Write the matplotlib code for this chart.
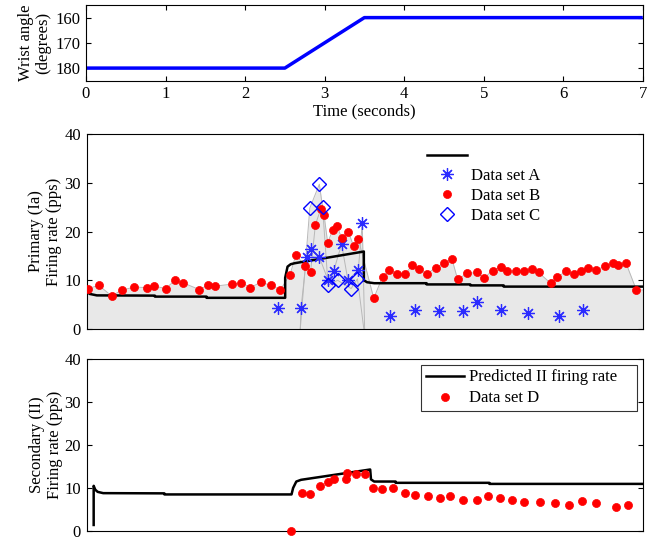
import matplotlib
matplotlib.use("Agg")
import matplotlib.pyplot as plt

plt.rcParams['font.family'] = ['Liberation Serif', 'DejaVu Serif']
plt.rcParams['font.size'] = 12
plt.rcParams['axes.linewidth'] = 0.8

# ---- wrist angle protocol ----
angle_t = [0.0, 2.5, 3.5, 7.0]
angle_deg = [180, 180, 160, 160]

# ---- primary (Ia) data ----
set_a_t = [2.41, 2.70, 2.77, 2.82, 2.93, 3.04, 3.11, 3.21, 3.29, 3.42, 3.47,
           3.82, 4.13, 4.44, 4.74, 4.92, 5.21, 5.55, 5.94, 6.25]
set_a_v = [4.4, 4.4, 14.8, 16.4, 14.8, 10.0, 11.9, 17.4, 10.0, 12.1, 21.7,
           2.7, 3.9, 3.6, 3.6, 5.6, 3.9, 3.2, 2.7, 3.9]

set_b_t = [0.02, 0.155, 0.315, 0.45, 0.60, 0.755, 0.855, 1.00, 1.11, 1.21,
           1.42, 1.53, 1.615, 1.83, 1.95, 2.06, 2.19, 2.32, 2.44, 2.56,
           2.635, 2.745, 2.82, 2.88, 2.95, 2.99, 3.035, 3.10, 3.15, 3.21,
           3.295, 3.36, 3.42, 3.615, 3.725, 3.805, 3.91, 4.01, 4.10, 4.18,
           4.28, 4.40, 4.50, 4.60, 4.67, 4.79, 4.92, 5.00, 5.11, 5.21,
           5.29, 5.40, 5.50, 5.61, 5.69, 5.84, 5.92, 6.04, 6.13, 6.22,
           6.31, 6.41, 6.53, 6.62, 6.69, 6.79, 6.92]
set_b_v = [8.3, 8.95, 6.8, 8.0, 8.6, 8.5, 8.8, 8.3, 10.0, 9.5,
           8.1, 9.0, 8.8, 9.2, 9.5, 8.5, 9.55, 9.0, 8.05, 11.1,
           15.2, 13.0, 11.7, 21.4, 24.7, 23.3, 17.7, 20.4, 21.2, 18.7,
           20.0, 17.0, 18.5, 6.3, 10.7, 12.1, 11.3, 11.3, 13.1, 12.4,
           11.3, 12.6, 13.5, 14.3, 10.2, 11.4, 11.6, 10.4, 12.0, 12.8,
           11.9, 11.9, 11.8, 12.4, 11.6, 9.4, 10.7, 11.8, 11.3, 12.0,
           12.6, 12.1, 12.9, 13.5, 13.1, 13.5, 8.0]

set_c_t = [2.81, 2.93, 2.97, 3.04, 3.16, 3.33, 3.41]
set_c_v = [24.8, 29.7, 25.1, 9.0, 10.0, 8.3, 10.3]

# predicted Ia firing rate (polyline vertices)
ia_t = [0.0, 0.0, 0.04, 0.13, 0.86, 0.86, 1.51, 1.51, 2.50, 2.50, 2.53, 2.57,
        2.62, 3.49, 3.49, 3.53, 3.62, 4.28, 4.28, 4.83, 4.83, 5.25, 5.25, 7.0]
ia_v = [13.3, 7.7, 7.2, 6.9, 6.85, 6.65, 6.65, 6.4, 6.4, 10.5, 12.8, 13.3,
        13.5, 15.9, 10.0, 9.6, 9.4, 9.4, 9.15, 9.15, 8.95, 8.95, 8.7, 8.7]

# ---- secondary (II) data ----
set_d_t = [2.57, 2.71, 2.81, 2.94, 3.04, 3.12, 3.26, 3.28, 3.39, 3.51,
           3.61, 3.72, 3.86, 4.01, 4.13, 4.30, 4.45, 4.58, 4.74, 4.91,
           5.05, 5.20, 5.35, 5.50, 5.71, 5.90, 6.07, 6.24, 6.41, 6.66, 6.82]
set_d_v = [0.0, 8.9, 8.7, 10.4, 11.5, 12.2, 12.2, 13.6, 13.2, 13.2,
           9.9, 9.8, 9.9, 8.9, 8.45, 8.1, 7.7, 8.1, 7.25, 7.2,
           8.2, 7.75, 7.2, 6.8, 6.8, 6.4, 6.05, 7.05, 6.6, 5.65, 6.05]

ii_t = [0.09, 0.09, 0.11, 0.14, 0.21, 0.98, 0.98, 2.58, 2.60, 2.64, 2.70,
        3.57, 3.58, 3.62, 3.89, 3.89, 5.07, 5.07, 7.0]
ii_v = [1.4, 10.5, 9.6, 9.1, 8.8, 8.75, 8.5, 8.5, 10.0, 11.5, 11.9,
        14.3, 12.0, 11.5, 11.5, 11.2, 11.2, 10.95, 10.95]

BLUE = '#0000ff'
STAR_BLUE = '#2b2bff'
RED = '#ff0000'
FILL = '#e8e8e8'
EDGE = '#b8b8b8'

fig = plt.figure(figsize=(6.52, 5.37), dpi=100)
ax_top = fig.add_axes([0.1319, 0.8497, 0.8539, 0.1410])
ax_mid = fig.add_axes([0.1327, 0.3873, 0.8531, 0.3631])
ax_bot = fig.add_axes([0.1327, 0.0112, 0.8531, 0.3203])


def style(ax):
    ax.tick_params(direction='in', length=3.5, width=0.8, top=True, right=True,
                   labelsize=12, pad=4)


# ---- top: wrist angle ----
ax_top.plot(angle_t, angle_deg, color=BLUE, lw=2.5, solid_capstyle='butt')
ax_top.set_xlim(0, 7)
ax_top.set_ylim(185, 155)
ax_top.set_xticks(range(0, 8))
ax_top.set_yticks([160, 170, 180])
ax_top.set_xlabel('Time (seconds)', fontsize=12, labelpad=1)
ax_top.set_ylabel('Wrist angle\n(degrees)', fontsize=12, linespacing=1.15)
ax_top.yaxis.set_label_coords(-0.062, 0.5)
style(ax_top)

# ---- middle: primary (Ia) ----
# shaded region: union of areas under each data trace
a_mid_t = set_a_t[1:11]
a_mid_v = set_a_v[1:11]
polys = [
    ([0.0] + set_b_t + [7.0], [set_b_v[0]] + set_b_v + [set_b_v[-1]]),
    ([2.69] + set_c_t + [3.49], [0.0] + set_c_v + [0.0]),
    ([2.69] + a_mid_t + [3.50], [0.0] + a_mid_v + [0.0]),
]
for xs, ys in polys:
    ax_mid.fill_between(xs, 0, ys, color=FILL, lw=0, zorder=1)
for xs, ys in polys:
    ax_mid.plot(xs, ys, color=EDGE, lw=0.7, zorder=1.5)

ln_ia, = ax_mid.plot(ia_t, ia_v, color='black', lw=1.8, zorder=3)
mk_a, = ax_mid.plot(set_a_t, set_a_v, ls='none', marker=(8, 2, 0), ms=9,
                    mec=STAR_BLUE, mew=0.9, zorder=4)
mk_b, = ax_mid.plot(set_b_t, set_b_v, ls='none', marker='o', ms=5.8,
                    mfc=RED, mec=RED, mew=0.5, zorder=4)
mk_c, = ax_mid.plot(set_c_t, set_c_v, ls='none', marker='D', ms=7.5,
                    mfc='none', mec=BLUE, mew=1.0, zorder=5)
ax_mid.set_xlim(0, 7)
ax_mid.set_ylim(0, 40)
ax_mid.set_xticks([])
ax_mid.set_yticks([0, 10, 20, 30, 40])
ax_mid.set_ylabel('Primary (Ia)\nFiring rate (pps)', fontsize=12, linespacing=1.2)
ax_mid.yaxis.set_label_coords(-0.044, 0.5)
style(ax_mid)
ax_mid.legend([ln_ia, mk_a, mk_b, mk_c], [' ', 'Data set A', 'Data set B', 'Data set C'],
              loc='upper left', bbox_to_anchor=(0.60, 0.96), frameon=False,
              fontsize=12, handlelength=2.4, handletextpad=0.25, labelspacing=0.22,
              borderaxespad=0)

# ---- bottom: secondary (II) ----
ln_ii, = ax_bot.plot(ii_t, ii_v, color='black', lw=1.8, zorder=3)
mk_d, = ax_bot.plot(set_d_t, set_d_v, ls='none', marker='o', ms=5.8,
                    mfc=RED, mec=RED, mew=0.5, zorder=4, clip_on=False)
ax_bot.set_xlim(0, 7)
ax_bot.set_ylim(0, 40)
ax_bot.set_xticks([])
ax_bot.set_yticks([0, 10, 20, 30, 40])
ax_bot.set_ylabel('Secondary (II)\nFiring rate (pps)', fontsize=12, linespacing=1.2)
ax_bot.yaxis.set_label_coords(-0.042, 0.5)
style(ax_bot)
leg = ax_bot.legend([ln_ii, mk_d], ['Predicted II firing rate', 'Data set D'],
                    loc='upper left', bbox_to_anchor=(0.602, 0.5, 0.387, 0.465),
                    mode='expand', frameon=True,
                    fancybox=False, edgecolor='black', fontsize=12,
                    handlelength=2.3, handletextpad=0.3, labelspacing=0.3,
                    borderaxespad=0, borderpad=0.26)
leg.get_frame().set_linewidth(0.8)

fig.savefig('out.png', dpi=100)
